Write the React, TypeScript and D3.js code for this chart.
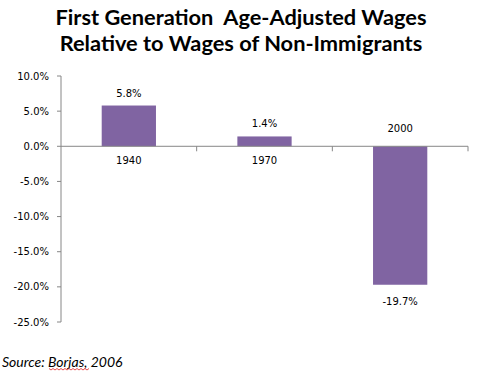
import React from "react";
import * as d3 from "d3";

const categories = ["1940", "1970", "2000"];
const values = [5.8, 1.4, -19.7];
const yTicks = [10, 5, 0, -5, -10, -15, -20, -25];
const titleLines = ["First Generation  Age-Adjusted Wages", "Relative to Wages of Non-Immigrants"];
const source = "Source: Borjas, 2006";

const width = 477;
const height = 373;
const axisColor = "#868686";
const barColor = "#8064A2";
const labelFont = "'DejaVu Sans', Verdana, sans-serif";

export default function App() {
  const x = d3
    .scaleBand<string>()
    .domain(categories)
    .range([61, 468])
    .paddingInner(0.6)
    .paddingOuter(0.3);

  const y = d3.scaleLinear().domain([-25, 10]).range([322, 76]);
  const fmt = (v: number) => `${v.toFixed(1)}%`;
  const step = x.step();
  const x0 = x.range()[0];

  // spell-check squiggle under "Borjas"
  const squiggle = d3.range(0, 41, 2).map((d, i) => [49 + d, i % 2 ? 370 : 368.5] as [number, number]);

  return (
    <svg
      width={width}
      height={height}
      style={{ position: "absolute", left: 0, top: 0, background: "#fff" }}
    >
      {/* title */}
      <g fontFamily="Lato, 'Open Sans', sans-serif" fontWeight="bold" fontSize={21.8} textAnchor="middle" fill="#000">
        {titleLines.map((t, i) => (
          <text key={i} x={241} y={25 + i * 26} style={{ whiteSpace: "pre" }}>
            {t}
          </text>
        ))}
      </g>

      {/* y axis */}
      <g fontFamily={labelFont} fontSize={10} fill="#000">
        <line x1={61} x2={61} y1={y(10)} y2={y(-25)} stroke={axisColor} />
        {yTicks.map((t) => (
          <g key={t}>
            <line x1={57} x2={61} y1={y(t)} y2={y(t)} stroke={axisColor} />
            <text x={49} y={y(t)} dy="0.35em" textAnchor="end">
              {fmt(t)}
            </text>
          </g>
        ))}
      </g>

      {/* bars */}
      {categories.map((c, i) => {
        const v = values[i];
        return (
          <rect
            key={c}
            x={x(c)}
            width={x.bandwidth()}
            y={Math.min(y(v), y(0))}
            height={Math.abs(y(v) - y(0))}
            fill={barColor}
          />
        );
      })}

      {/* zero line with category ticks */}
      <line x1={61} x2={468} y1={y(0)} y2={y(0)} stroke={axisColor} />
      {categories.map((c, i) => (
        <line
          key={c}
          x1={x0 + step * (i + 1)}
          x2={x0 + step * (i + 1)}
          y1={y(0)}
          y2={y(0) + 5}
          stroke={axisColor}
        />
      ))}

      {/* labels */}
      <g fontFamily={labelFont} fontSize={10} textAnchor="middle" fill="#000">
        {categories.map((c, i) => {
          const v = values[i];
          const cx = (x(c) ?? 0) + x.bandwidth() / 2;
          return (
            <g key={c}>
              <text x={cx} y={v >= 0 ? y(0) + 18 : y(0) - 14}>
                {c}
              </text>
              <text x={cx} y={v >= 0 ? y(v) - 9 : y(v) + 20}>
                {fmt(v)}
              </text>
            </g>
          );
        })}
      </g>

      {/* source */}
      <text x={2} y={367} fontFamily="Lato, 'Open Sans', sans-serif" fontStyle="italic" fontSize={14} fill="#000">
        {source}
      </text>
      <path d={d3.line()(squiggle) ?? ""} fill="none" stroke="#e02020" strokeWidth={0.8} />
    </svg>
  );
}
